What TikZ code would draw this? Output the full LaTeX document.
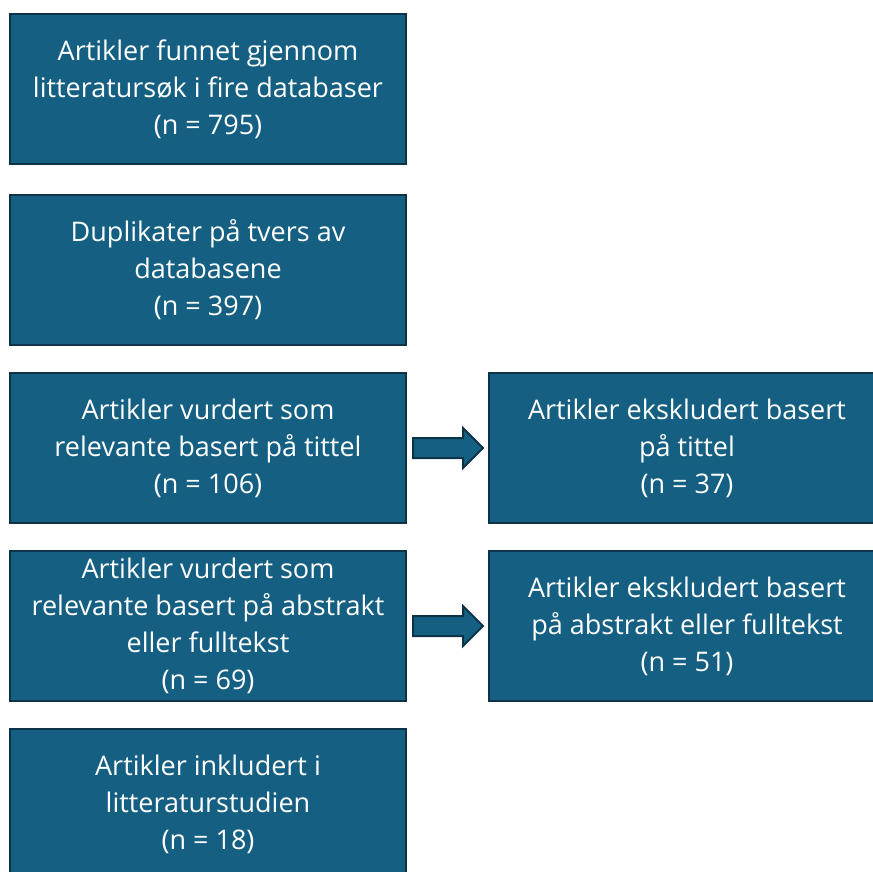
\documentclass[tikz,border=0pt]{standalone}
\usepackage{fontspec}
\setmainfont{Open Sans}
\usetikzlibrary{shapes.arrows,calc}
\definecolor{boxfill}{HTML}{156082}
\definecolor{boxline}{HTML}{0C3348}
\tikzset{
  box/.style={draw=boxline, line width=2pt, fill=boxfill, text=white,
    minimum width=396pt, minimum height=150pt, inner sep=0pt, align=center,
    font=\fontsize{27}{37}\selectfont},
  blockarrow/.style={single arrow, draw=boxline, line width=2pt, fill=boxfill,
    inner xsep=0pt, inner ysep=9pt, single arrow head extend=10pt,
    minimum height=70pt, single arrow tip angle=90, anchor=tail}
}
\begin{document}
\begin{tikzpicture}[x=1pt,y=-1pt]
\useasboundingbox (0,0) rectangle (873,872);
\clip (0,0) rectangle (873,872);
\node[box] (a) at (208,89.5) {Artikler funnet gjennom\\litteratursøk i fire databaser\\(n = 795)};
\node[box] (b) at (208,270) {Duplikater på tvers av\\databasene\\(n = 397)};
\node[box] (c) at (208,448) {Artikler vurdert som\\relevante basert på tittel\\(n = 106)};
\node[box] (d) at (208,626) {Artikler vurdert som\\relevante basert på abstrakt\\eller fulltekst\\(n = 69)};
\node[box] (e) at (208,804) {Artikler inkludert i\\litteraturstudien\\(n = 18)};
\node[box] (f) at (687,448) {Artikler ekskludert basert\\på tittel\\(n = 37)};
\node[box] (g) at (687,626) {Artikler ekskludert basert\\på abstrakt eller fulltekst\\(n = 51)};
\node[blockarrow] (ar1) at ([xshift=5pt]c.east) {};
\node[blockarrow] (ar2) at ([xshift=5pt]d.east) {};
\end{tikzpicture}
\end{document}
